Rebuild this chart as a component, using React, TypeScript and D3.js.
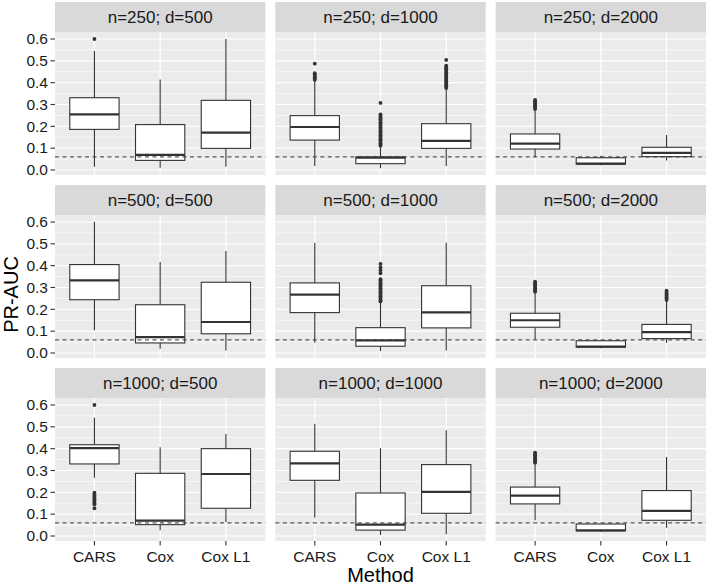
import React from "react";
import * as d3 from "d3";

const panelTitles = [
  "n=250; d=500", "n=250; d=1000", "n=250; d=2000",
  "n=500; d=500", "n=500; d=1000", "n=500; d=2000",
  "n=1000; d=500", "n=1000; d=1000", "n=1000; d=2000",
];
const methods = ["CARS", "Cox", "Cox L1"];
const yTicks = [0, 0.1, 0.2, 0.3, 0.4, 0.5, 0.6];
const yMinor = [0.05, 0.15, 0.25, 0.35, 0.45, 0.55];
const baseline = 0.06;

// per panel: [CARS, Cox, Cox L1]
const lowerWhisker = [
  [0.015, 0.01, 0.015], [0.018, 0.008, 0.018], [0.058, 0.022, 0.043],
  [0.104, 0.02, 0.011], [0.047, 0.009, 0.011], [0.061, 0.022, 0.047],
  [0.267, 0.026, 0.064], [0.084, 0.005, 0.008], [0.072, 0.02, 0.038],
];
const q1 = [
  [0.186, 0.044, 0.099], [0.137, 0.029, 0.099], [0.096, 0.027, 0.061],
  [0.244, 0.046, 0.088], [0.185, 0.031, 0.115], [0.118, 0.027, 0.066],
  [0.33, 0.052, 0.127], [0.255, 0.027, 0.104], [0.147, 0.024, 0.072],
];
const median = [
  [0.255, 0.069, 0.171], [0.197, 0.056, 0.133], [0.121, 0.029, 0.078],
  [0.333, 0.073, 0.142], [0.267, 0.058, 0.186], [0.15, 0.029, 0.096],
  [0.402, 0.07, 0.284], [0.333, 0.052, 0.202], [0.185, 0.026, 0.115],
];
const q3 = [
  [0.331, 0.208, 0.319], [0.249, 0.06, 0.212], [0.165, 0.056, 0.104],
  [0.405, 0.221, 0.324], [0.321, 0.116, 0.308], [0.182, 0.056, 0.131],
  [0.418, 0.287, 0.4], [0.388, 0.197, 0.327], [0.224, 0.055, 0.208],
];
const upperWhisker = [
  [0.545, 0.415, 0.6], [0.41, 0.104, 0.372], [0.272, 0.065, 0.16],
  [0.601, 0.417, 0.467], [0.505, 0.232, 0.505], [0.278, 0.056, 0.24],
  [0.542, 0.406, 0.467], [0.514, 0.402, 0.484], [0.332, 0.055, 0.362],
];
const outliers = [
  [[0.6], [], []],
  [
    [0.487, 0.443, 0.437, 0.431, 0.425, 0.419, 0.413],
    [0.307, 0.255, 0.249, 0.243, 0.237, 0.231, 0.225, 0.219, 0.213, 0.207, 0.201, 0.195, 0.189, 0.183, 0.177, 0.171, 0.165, 0.159, 0.153, 0.147, 0.141, 0.135, 0.129, 0.123, 0.117, 0.111],
    [0.504, 0.478, 0.472, 0.466, 0.46, 0.454, 0.448, 0.442, 0.436, 0.43, 0.424, 0.418, 0.412, 0.406, 0.4, 0.394, 0.388, 0.382, 0.376],
  ],
  [[0.321, 0.315, 0.309, 0.303, 0.297, 0.291, 0.285, 0.279], [], []],
  [[], [], []],
  [
    [],
    [0.408, 0.392, 0.379, 0.365, 0.338, 0.332, 0.326, 0.32, 0.314, 0.308, 0.302, 0.296, 0.29, 0.284, 0.278, 0.272, 0.266, 0.26, 0.254, 0.248, 0.242, 0.236],
    [],
  ],
  [
    [0.327, 0.321, 0.315, 0.309, 0.303, 0.297, 0.291, 0.285, 0.281],
    [],
    [0.285, 0.279, 0.273, 0.267, 0.261, 0.255, 0.249, 0.243],
  ],
  [[0.6, 0.198, 0.192, 0.186, 0.18, 0.174, 0.168, 0.162, 0.156, 0.15, 0.145, 0.127], [], []],
  [[], [], []],
  [[0.382, 0.376, 0.37, 0.364, 0.358, 0.352, 0.346, 0.34, 0.336], [], []],
];

const W = 709;
const H = 585;
const left = 55;
const right = 706;
const gap = 10;
const stripH = 30;
const plotH = 143;
const top0 = 2;
const panelW = (right - left - 2 * gap) / 3;
const font = "'Liberation Sans', Arial, Helvetica, sans-serif";
const boxColor = "#333333";

export default function App() {
  const y = d3.scaleLinear().domain([-0.0229, 0.632]).range([plotH, 0]);
  const x = d3.scalePoint<string>().domain(methods).range([0, panelW]).padding(0.6);
  const step = x.step();
  const bw = step * 0.75;

  const panels = panelTitles.map((title, i) => {
    const col = i % 3;
    const row = Math.floor(i / 3);
    const px = left + col * (panelW + gap);
    const sy = top0 + row * (stripH + plotH + gap);
    const py = sy + stripH;
    return (
      <g key={title}>
        <rect x={px} y={sy} width={panelW} height={stripH} fill="#d9d9d9" />
        <text x={px + panelW / 2} y={sy + stripH / 2 + 6} textAnchor="middle" fontSize={17} fill="#1a1a1a" fontFamily={font}>
          {title}
        </text>
        <g transform={`translate(${px},${py})`}>
          <rect width={panelW} height={plotH} fill="#ebebeb" />
          {yMinor.map((t) => (
            <line key={"mi" + t} x1={0} x2={panelW} y1={y(t)} y2={y(t)} stroke="#fff" strokeWidth={0.6} />
          ))}
          {yTicks.map((t) => (
            <line key={"ma" + t} x1={0} x2={panelW} y1={y(t)} y2={y(t)} stroke="#fff" strokeWidth={1.2} />
          ))}
          {methods.map((m) => (
            <line key={"v" + m} x1={x(m)} x2={x(m)} y1={0} y2={plotH} stroke="#fff" strokeWidth={1.2} />
          ))}
          {methods.map((m, j) => {
            const cx = x(m) as number;
            return (
              <g key={m}>
                <line x1={cx} x2={cx} y1={y(upperWhisker[i][j])} y2={y(q3[i][j])} stroke={boxColor} strokeWidth={1.1} />
                <line x1={cx} x2={cx} y1={y(q1[i][j])} y2={y(lowerWhisker[i][j])} stroke={boxColor} strokeWidth={1.1} />
                <rect
                  x={cx - bw / 2}
                  y={y(q3[i][j])}
                  width={bw}
                  height={Math.max(0.5, y(q1[i][j]) - y(q3[i][j]))}
                  fill="#fff"
                  stroke={boxColor}
                  strokeWidth={1.1}
                />
                <line x1={cx - bw / 2} x2={cx + bw / 2} y1={y(median[i][j])} y2={y(median[i][j])} stroke={boxColor} strokeWidth={2.2} />
                {outliers[i][j].map((v, k) => (
                  <circle key={k} cx={cx} cy={y(v)} r={1.9} fill={boxColor} />
                ))}
              </g>
            );
          })}
          <line x1={0} x2={panelW} y1={y(baseline)} y2={y(baseline)} stroke="#333" strokeWidth={1} strokeDasharray="4,3.5" />
          {col === 0 &&
            yTicks.map((t) => (
              <g key={"yt" + t}>
                <line x1={-4.5} x2={0} y1={y(t)} y2={y(t)} stroke="#333" strokeWidth={1.1} />
                <text x={-7} y={y(t) + 5.3} textAnchor="end" fontSize={15.5} fill="#1a1a1a" fontFamily={font}>
                  {t.toFixed(1)}
                </text>
              </g>
            ))}
          {row === 2 &&
            methods.map((m) => (
              <g key={"xt" + m}>
                <line x1={x(m)} x2={x(m)} y1={plotH} y2={plotH + 4.5} stroke="#333" strokeWidth={1.1} />
                <text x={x(m)} y={plotH + 20.5} textAnchor="middle" fontSize={15.5} fill="#1a1a1a" fontFamily={font}>
                  {m}
                </text>
              </g>
            ))}
        </g>
      </g>
    );
  });

  const plotTop = top0 + stripH;
  const plotBottom = top0 + 3 * (stripH + plotH) + 2 * gap;
  return (
    <svg width={W} height={H} style={{ position: "absolute", left: 0, top: 0, background: "#fff" }}>
      <rect width={W} height={H} fill="#fff" />
      {panels}
      <text
        transform={`translate(18,${(plotTop + plotBottom) / 2 + 8}) rotate(-90)`}
        textAnchor="middle"
        fontSize={20}
        fill="#000"
        fontFamily={font}
      >
        PR-AUC
      </text>
      <text x={left + (right - left) / 2} y={582} textAnchor="middle" fontSize={20} fill="#000" fontFamily={font}>
        Method
      </text>
    </svg>
  );
}
